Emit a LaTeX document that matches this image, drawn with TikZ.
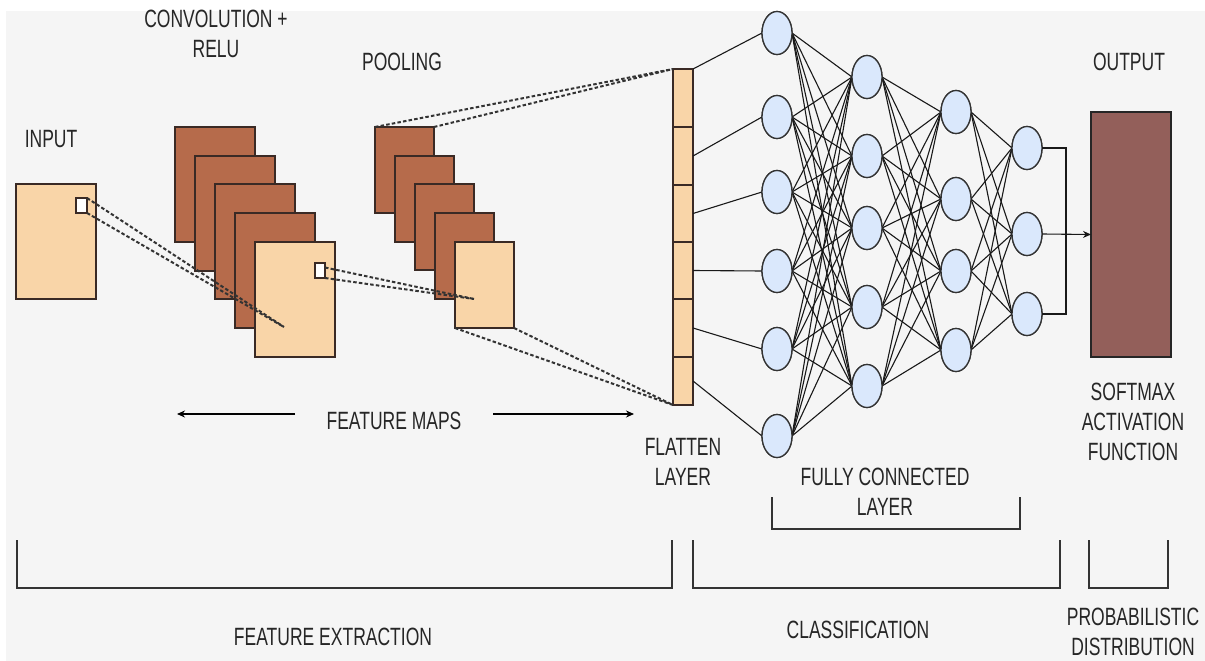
\documentclass[tikz,border=0pt]{standalone}
\usepackage{fontspec}
\setmainfont{Liberation Sans}[FakeStretch=0.70]
\usetikzlibrary{shapes.geometric,arrows.meta}
\definecolor{bgc}{HTML}{F5F5F5}
\definecolor{darkmap}{HTML}{B66B4B}
\definecolor{lightmap}{HTML}{F9D5A8}
\definecolor{neuronfill}{HTML}{DAE8FC}
\definecolor{outfill}{HTML}{935F5A}
\definecolor{txt}{HTML}{262626}
\definecolor{edge}{HTML}{3A2A25}
\tikzset{
  lbl/.style={text=txt,font=\fontsize{25}{30}\selectfont,align=center,inner sep=0pt},
  mapdark/.style={draw=edge,line width=1.3pt,fill=darkmap,anchor=north west,inner sep=0pt,outer sep=0pt},
  maplight/.style={draw=edge,line width=1.3pt,fill=lightmap,anchor=north west,inner sep=0pt,outer sep=0pt},
  bigmap/.style={minimum width=80pt,minimum height=115pt},
  poolmap/.style={minimum width=59pt,minimum height=86pt},
  patch/.style={draw=edge,line width=1.3pt,fill=white,anchor=north west,inner sep=0pt,outer sep=0pt,minimum width=11pt,minimum height=15pt},
  cell/.style={draw=edge,line width=1.3pt,fill=lightmap,anchor=north west,inner sep=0pt,outer sep=0pt,minimum width=20pt},
  neuron/.style={ellipse,draw=black!80,line width=1.3pt,fill=neuronfill,minimum width=30pt,minimum height=43pt,inner sep=0pt,outer sep=0pt},
  dashln/.style={draw=black!80,line width=2pt,dash pattern=on 3.5pt off 2.2pt},
  wire/.style={draw=black!90,line width=1.1pt},
  brk/.style={draw=black!80,line width=1.2pt},
  farrow/.style={draw=black,line width=1.2pt,-{Stealth[length=8pt,width=7pt]}}
}
\begin{document}
\begin{tikzpicture}[x=1pt,y=-1pt]
\useasboundingbox (0,0) rectangle (1205,661);
\fill[white] (0,0) rectangle (1205,661);
\fill[bgc] (6,11) rectangle (1205,661);

% input
\node[maplight,minimum width=80pt,minimum height=115pt] (inp) at (16,184) {};
\node[patch] (inpatch) at (76,198) {};

% convolution stack
\node[mapdark,bigmap] (cv1) at (175,127) {};
\node[mapdark,bigmap] (cv2) at (195,156) {};
\node[mapdark,bigmap] (cv3) at (215,184) {};
\node[mapdark,bigmap] (cv4) at (235,213) {};
\node[maplight,bigmap] (cv5) at (255,242) {};
\node[patch,minimum width=10pt] (cvpatch) at (315,263) {};
\coordinate (cvfocus) at (284,327);

% pooling stack
\node[mapdark,poolmap] (pl1) at (375,127) {};
\node[mapdark,poolmap] (pl2) at (395,156) {};
\node[mapdark,poolmap] (pl3) at (415,184) {};
\node[mapdark,poolmap] (pl4) at (435,213) {};
\node[maplight,poolmap] (pl5) at (455,242) {};
\coordinate (plfocus) at (474,299);

% flatten layer
\node[cell,minimum height=58pt] (f1) at (673,69) {};
\node[cell,minimum height=58pt] (f2) at (673,127) {};
\node[cell,minimum height=57pt] (f3) at (673,185) {};
\node[cell,minimum height=57pt] (f4) at (673,242) {};
\node[cell,minimum height=58pt] (f5) at (673,299) {};
\node[cell,minimum height=48pt] (f6) at (673,357) {};

% dashed receptive-field lines
\draw[dashln] (inpatch.north east) -- (cvfocus);
\draw[dashln] (inpatch.south east) -- (cvfocus);
\draw[dashln] (cvpatch.east) ++(0,-3) -- (plfocus);
\draw[dashln] (cvpatch.south east) -- (plfocus);
\draw[dashln] (pl1.north west) -- (f1.north west);
\draw[dashln] (pl1.north east) -- (f1.north west);
\draw[dashln] (pl5.south west) -- (f6.south west);
\draw[dashln] (pl5.south east) -- (f6.south west);

% neurons
\foreach \i/\y in {1/33,2/117,3/192,4/271,5/349,6/436} \node[neuron] (a\i) at (777,\y) {};
\foreach \i/\y in {1/77,2/156,3/228,4/307,5/386} \node[neuron] (b\i) at (867,\y) {};
\foreach \i/\y in {1/112,2/199,3/271,4/350} \node[neuron] (c\i) at (956,\y) {};
\foreach \i/\y in {1/148,2/234,3/314} \node[neuron] (d\i) at (1027,\y) {};

% flatten to first layer
\draw[wire] (f1.north east) -- (a1.west);
\foreach \i in {2,...,6} \draw[wire] (f\i.east) -- (a\i.west);

% dense connections
\foreach \i in {1,...,6} \foreach \j in {1,...,5} \draw[wire] (a\i.east) -- (b\j.west);
\foreach \i in {1,...,5} \foreach \j in {1,...,4} \draw[wire] (b\i.east) -- (c\j.west);
\foreach \i in {1,...,4} \foreach \j in {1,...,3} \draw[wire] (c\i.east) -- (d\j.west);

% redraw neurons on top
\foreach \i/\y in {1/33,2/117,3/192,4/271,5/349,6/436} \node[neuron] at (777,\y) {};
\foreach \i/\y in {1/77,2/156,3/228,4/307,5/386} \node[neuron] at (867,\y) {};
\foreach \i/\y in {1/112,2/199,3/271,4/350} \node[neuron] at (956,\y) {};
\foreach \i/\y in {1/148,2/234,3/314} \node[neuron] at (1027,\y) {};

% output
\node[draw=black!85,line width=1.3pt,fill=outfill,anchor=north west,minimum width=80pt,minimum height=245pt,inner sep=0pt,outer sep=0pt] (out) at (1091,112) {};
\coordinate (jt) at (1066,148);
\coordinate (jb) at (1066,314);
\draw[wire] (d1.east) -- (jt) -- (jb) -- (d3.east);
\draw[wire,-{Stealth[length=8pt,width=7pt]}] (d2.east) -- (out.west);

% labels
\node[lbl] (tconv) at (216,34) {CONVOLUTION +\\RELU};
\node[lbl] (tpool) at (402,62) {POOLING};
\node[lbl] (tinput) at (51,139) {INPUT};
\node[lbl] (toutput) at (1129,62) {OUTPUT};
\node[lbl] (tfmaps) at (394,421) {FEATURE MAPS};
\coordinate (fmL1) at (295,414);
\coordinate (fmL2) at (177,414);
\coordinate (fmR1) at (493,414);
\coordinate (fmR2) at (634,414);
\draw[farrow] (fmL1) -- (fmL2);
\draw[farrow] (fmR1) -- (fmR2);
\node[lbl] (tflat) at (683,462) {FLATTEN\\LAYER};
\node[lbl] (tfc) at (885,492) {FULLY CONNECTED\\LAYER};
\node[lbl] (tsoft) at (1133,422) {SOFTMAX\\ACTIVATION\\FUNCTION};
\node[lbl] (tfe) at (333,637) {FEATURE EXTRACTION};
\node[lbl] (tcl) at (858,630) {CLASSIFICATION};
\node[lbl] (tpd) at (1133,632) {PROBABILISTIC\\DISTRIBUTION};

% brackets
\coordinate (fc1) at (772,497); \coordinate (fc2) at (772,529);
\coordinate (fc3) at (1020,529); \coordinate (fc4) at (1020,497);
\draw[brk] (fc1) -- (fc2) -- (fc3) -- (fc4);
\coordinate (fe1) at (17,540); \coordinate (fe2) at (17,588);
\coordinate (fe3) at (672,588); \coordinate (fe4) at (672,540);
\draw[brk] (fe1) -- (fe2) -- (fe3) -- (fe4);
\coordinate (cl1) at (693,540); \coordinate (cl2) at (693,588);
\coordinate (cl3) at (1060,588); \coordinate (cl4) at (1060,540);
\draw[brk] (cl1) -- (cl2) -- (cl3) -- (cl4);
\coordinate (pd1) at (1089,540); \coordinate (pd2) at (1089,588);
\coordinate (pd3) at (1168,588); \coordinate (pd4) at (1168,540);
\draw[brk] (pd1) -- (pd2) -- (pd3) -- (pd4);
\end{tikzpicture}
\end{document}
